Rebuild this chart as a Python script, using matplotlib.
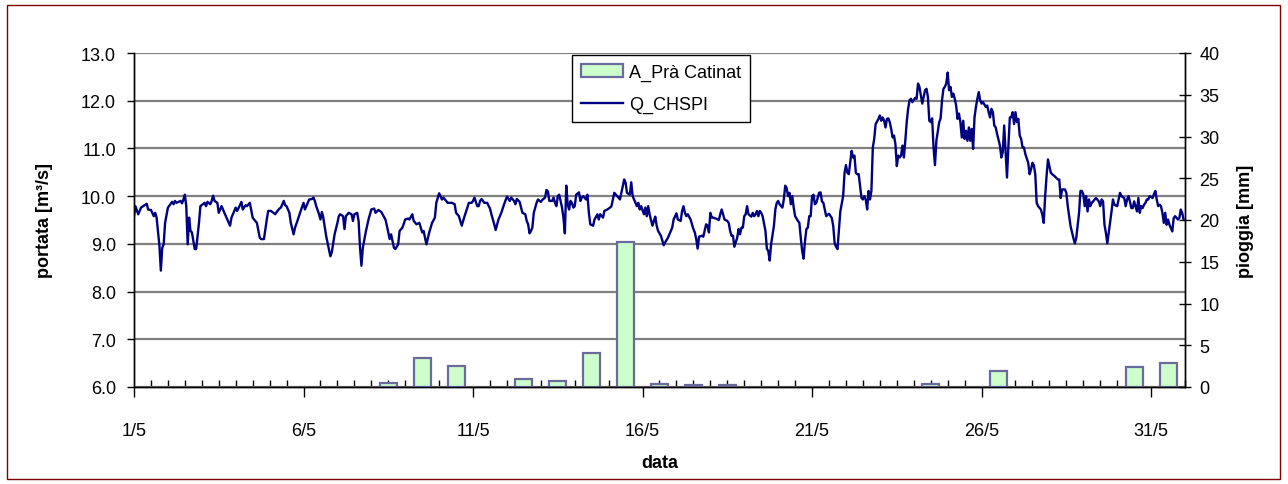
import matplotlib
matplotlib.use("Agg")
import matplotlib.pyplot as plt
from matplotlib.patches import Rectangle
from matplotlib.ticker import FormatStrFormatter
import numpy as np

plt.rcParams['font.family'] = ['Liberation Sans', 'DejaVu Sans']

# pioggia giornaliera a Prà Catinat (mm), giorno di maggio
rain_days = [8, 9, 10, 12, 13, 14, 15, 16, 17, 18, 24, 26, 30, 31]
rain_mm = [0.5, 3.5, 2.5, 0.9, 0.7, 4.1, 17.4, 0.3, 0.2, 0.2, 0.4, 1.9, 2.4, 2.9]

# portata Q_CHSPI: ore dal 1/5 00:00 e valori in m3/s
flow_hours = [
    0, 1, 3, 5, 9, 10, 12, 14, 15, 16, 18, 19, 20, 21, 22,
    24, 27, 28, 29, 30, 33, 34, 35, 36, 37, 38, 39, 40, 41, 43, 44, 46, 47,
    50, 51, 52, 54, 55, 56, 57, 59, 60, 62, 64, 68, 69,
    72, 73, 75, 76, 77, 79, 80, 82, 84, 85, 87, 89, 90, 92, 94, 95,
    97, 100, 101, 103, 104, 106, 107, 108, 110, 111, 113, 114, 116, 118,
    120, 121, 122, 124, 126, 127, 128, 129, 131, 132, 133, 134, 136, 138, 139, 140, 142,
    144, 145, 146, 148, 149, 150, 152, 154, 155, 156, 158, 159, 160, 161, 162, 164, 166,
    168, 170, 171, 173, 175, 178, 179, 181, 182, 184, 185, 187, 188, 190,
    192, 194, 195, 197, 198, 200, 202, 204, 205, 206, 207, 209, 211, 213, 214,
    216, 218, 219, 221, 222, 225, 227, 228, 230, 232, 233, 234, 236, 237, 239,
    240, 241, 243, 244, 245, 246, 248, 250, 252, 253, 255, 256, 258, 260, 262,
    264, 266, 267, 269, 270, 271, 273, 274, 275, 277, 278, 279, 280, 281, 282, 283, 285, 286,
    288, 289, 291, 292, 293, 294, 296, 297, 298, 299, 300, 301, 302, 303, 304, 305, 306, 307, 308, 309, 310,
    311, 312, 313, 315, 316, 317, 318, 320, 321, 322, 323, 325, 326, 328, 329, 330, 332, 333, 335,
    337, 338, 339, 340, 342, 343, 344, 345, 347, 348, 349, 351, 352, 353, 355, 356, 357,
    358, 359, 361, 362, 363, 364, 365, 367, 368, 369, 370, 371, 373, 375, 376, 378, 379, 381, 382,
    384, 385, 387, 388, 389, 390, 391, 392, 394, 396, 397, 398, 399, 400, 402, 403, 405, 406, 407,
    408, 409, 410, 412, 414, 415, 416, 417, 418, 420, 421, 422, 423, 424, 425, 427, 428, 429, 430, 431,
    432, 433, 434, 435, 437, 438, 439, 440, 441, 442, 443, 444, 445, 447, 448, 449, 450, 451, 453, 454, 455,
    456, 457, 459, 460, 461, 462, 463, 464, 465, 466, 467, 468, 470, 471, 472, 473, 474, 475, 476, 477, 478, 479,
    480, 481, 482, 483, 485, 486, 487, 488, 490, 491, 492, 494, 495, 496, 497, 498, 499, 500, 502, 503,
    504, 505, 506, 507, 508, 509, 510, 511, 512, 513, 515, 516, 517, 518, 519, 520, 521, 522, 523, 524, 525, 527,
    528, 529, 530, 531, 532, 533, 534, 535, 536, 537, 538, 539, 540, 541, 542, 543, 544, 545, 546, 547, 548, 549, 550, 551,
    553, 554, 555, 556, 557, 558, 560, 561, 562, 563, 564, 565, 566, 567, 568, 570, 571, 572, 573, 574, 575,
    576, 577, 578, 579, 580, 581, 582, 583, 584, 585, 586, 587, 588, 589, 590, 591, 592, 593, 594, 595, 596, 597, 598, 599,
    600, 601, 603, 604, 605, 606, 607, 608, 609, 610, 611, 613, 614, 615, 616, 617, 618, 619, 620, 621, 622, 623,
    624, 625, 626, 627, 628, 629, 630, 631, 633, 634, 635, 636, 637, 638, 639, 640, 642, 643, 644, 645, 646, 647,
    648, 649, 650, 652, 654, 655, 656, 657, 659, 660, 661, 662, 663, 665, 666, 667, 669, 670, 671,
    672, 673, 674, 675, 676, 677, 678, 679, 680, 681, 683, 684, 685, 686, 687, 688, 689, 690, 691, 692, 693, 694,
    696, 697, 698, 699, 701, 702, 703, 704, 705, 706, 707, 708, 710, 711, 712, 713, 714, 715, 716, 717, 718, 719,
    721, 722, 723, 724, 725, 726, 727, 728, 729, 730, 731, 732, 733, 734, 735, 736, 737, 739, 740, 741, 742, 743,
]
flow_q = [
    9.58, 9.79, 9.62, 9.76, 9.84, 9.72, 9.71, 9.58, 9.65, 9.55, 8.96, 8.44, 8.92, 8.99, 9.44,
    9.76, 9.88, 9.83, 9.90, 9.86, 9.90, 9.85, 9.93, 10.03, 9.79, 8.99, 9.55, 9.27, 9.24, 8.89, 8.89, 9.44, 9.79,
    9.86, 9.79, 9.88, 9.83, 9.90, 10.01, 9.90, 9.86, 9.65, 9.79, 9.65, 9.38, 9.55,
    9.76, 9.69, 9.81, 9.88, 9.72, 9.81, 9.79, 9.86, 9.55, 9.51, 9.44, 9.13, 9.10, 9.10, 9.51, 9.69,
    9.69, 9.62, 9.67, 9.74, 9.76, 9.90, 9.81, 9.79, 9.65, 9.44, 9.20, 9.34, 9.51, 9.69,
    9.86, 9.72, 9.79, 9.93, 9.94, 9.97, 9.90, 9.79, 9.62, 9.51, 9.67, 9.55, 9.17, 8.89, 8.74, 8.82, 9.20,
    9.44, 9.58, 9.62, 9.58, 9.31, 9.58, 9.65, 9.62, 9.48, 9.62, 9.65, 9.48, 8.92, 8.54, 8.92, 9.24, 9.51,
    9.72, 9.74, 9.65, 9.71, 9.67, 9.51, 9.38, 9.10, 9.20, 8.92, 8.89, 8.99, 9.27, 9.34,
    9.51, 9.53, 9.51, 9.62, 9.48, 9.41, 9.44, 9.24, 9.27, 9.13, 8.99, 9.24, 9.44, 9.55, 9.86,
    10.06, 9.93, 9.97, 9.90, 9.86, 9.86, 9.83, 9.65, 9.58, 9.38, 9.48, 9.58, 9.76, 9.86, 9.86,
    9.90, 9.97, 9.79, 9.79, 9.90, 9.94, 9.86, 9.86, 9.74, 9.62, 9.41, 9.29, 9.51, 9.65, 9.83,
    9.99, 9.90, 9.97, 9.90, 9.83, 9.94, 9.88, 9.76, 9.65, 9.62, 9.48, 9.41, 9.22, 9.27, 9.34, 9.65, 9.86, 9.93,
    9.88, 9.92, 9.97, 10.13, 10.10, 9.90, 9.90, 9.97, 9.86, 9.79, 10.00, 10.03, 9.90, 9.76, 9.55, 9.22, 10.22, 9.83, 9.72, 9.90, 9.86,
    9.76, 9.79, 10.03, 10.08, 9.90, 9.97, 10.00, 9.93, 10.03, 9.65, 9.41, 9.38, 9.51, 9.62, 9.51, 9.62, 9.55, 9.69, 9.72,
    9.76, 9.79, 9.93, 10.07, 10.00, 9.97, 9.93, 10.07, 10.35, 10.28, 10.07, 10.03, 10.29, 10.00, 9.86, 9.79, 9.86,
    9.72, 9.79, 9.62, 9.76, 9.58, 9.79, 9.62, 9.38, 9.48, 9.57, 9.38, 9.27, 9.17, 8.97, 9.03, 9.13, 9.20, 9.34, 9.51,
    9.64, 9.51, 9.48, 9.69, 9.79, 9.65, 9.58, 9.62, 9.51, 9.31, 9.24, 9.10, 8.90, 9.15, 9.17, 9.15, 9.41, 9.38, 9.24,
    9.65, 9.55, 9.55, 9.53, 9.50, 9.62, 9.72, 9.62, 9.51, 9.48, 9.44, 9.27, 9.17, 9.17, 8.94, 9.13, 9.31, 9.20, 9.34, 9.34,
    9.58, 9.62, 9.79, 9.62, 9.57, 9.65, 9.58, 9.62, 9.69, 9.58, 9.69, 9.65, 9.58, 9.27, 8.90, 8.85, 8.65, 8.99, 9.38, 9.72, 9.86,
    9.90, 9.83, 9.76, 9.93, 10.22, 10.17, 10.00, 10.07, 9.83, 10.00, 9.76, 9.58, 9.48, 9.44, 9.13, 8.85, 8.69, 9.06, 9.31, 9.34, 9.58, 9.58,
    10.00, 10.03, 9.83, 9.86, 10.07, 10.08, 9.89, 9.86, 9.58, 9.61, 9.63, 9.54, 9.37, 9.01, 8.94, 8.89, 9.30, 9.68, 10.00, 10.49,
    10.65, 10.49, 10.46, 10.70, 10.95, 10.81, 10.85, 10.49, 10.46, 10.46, 9.96, 9.93, 10.00, 9.93, 9.72, 10.11, 9.93, 10.11, 11.02, 11.20, 11.51, 11.62,
    11.69, 11.58, 11.65, 11.58, 11.44, 11.62, 11.63, 11.55, 11.41, 11.23, 11.27, 11.09, 10.63, 10.85, 10.81, 10.85, 11.06, 10.81, 11.16, 11.55, 11.83, 12.01, 12.04, 11.97,
    12.06, 12.04, 12.36, 12.29, 12.11, 11.94, 12.22, 12.25, 12.08, 11.58, 11.55, 11.63, 11.02, 10.65, 11.16, 11.55, 11.63, 12.01, 12.25, 12.29, 12.36,
    12.59, 12.22, 12.29, 12.08, 12.15, 12.04, 11.90, 11.62, 11.73, 11.55, 11.23, 11.58, 11.20, 11.37, 11.16, 11.44, 11.16, 11.41, 10.99, 11.65, 11.87, 12.04, 12.18, 12.01,
    11.94, 11.97, 11.87, 11.90, 11.76, 11.65, 11.83, 11.76, 11.48, 11.44, 11.30, 11.06, 10.81, 10.92, 11.48, 10.92, 10.39, 11.06, 11.65, 11.65, 11.76, 11.51,
    11.76, 11.55, 11.62, 11.27, 11.20, 11.02, 11.02, 10.88, 10.70, 10.46, 10.56, 10.70, 10.65, 10.46, 9.86, 9.79, 9.72, 9.61, 9.44, 10.00, 10.42, 10.77,
    10.63, 10.49, 10.46, 10.41, 10.35, 10.35, 9.96, 10.14, 10.14, 10.07, 9.79, 9.58, 9.37, 9.12, 9.01, 9.12, 9.65, 10.11, 10.11,
    10.04, 9.79, 10.00, 9.68, 9.93, 9.79, 9.86, 9.89, 9.93, 9.96, 9.89, 9.79, 9.93, 9.89, 9.40, 9.23, 9.01, 9.23, 9.44, 9.68, 9.93, 9.82,
    9.79, 9.93, 10.07, 10.00, 9.96, 9.79, 9.93, 10.00, 9.89, 9.75, 9.75, 9.89, 9.68, 9.96, 9.65, 9.79, 9.75, 9.82, 9.86, 9.93, 9.93, 10.00,
    9.96, 10.04, 10.11, 9.93, 9.79, 9.82, 9.79, 9.65, 9.44, 9.65, 9.40, 9.51, 9.40, 9.33, 9.26, 9.54, 9.58, 9.51, 9.54, 9.72, 9.65, 9.51,
]

date_labels = ['1/5', '6/5', '11/5', '16/5', '21/5', '26/5', '31/5']

W, H = 1288, 485
fig = plt.figure(figsize=(W / 100, H / 100), dpi=100)
ax = fig.add_axes([134 / W, 1 - 388 / H, (1185 - 134) / W, (388 - 54) / H])
ax2 = ax.twinx()

# portata (asse sinistro)
t = np.array(flow_hours) / 24.0
ax.plot(t, flow_q, color='#000080', lw=1.7, zorder=3)
ax.set_xlim(0, 31)
ax.set_ylim(6, 13)
ax.set_yticks(np.arange(6, 13.5, 1))
ax.yaxis.set_major_formatter(FormatStrFormatter('%.1f'))
ax.set_axisbelow(True)
ax.yaxis.grid(True, color='#808080', lw=1.6)

# pioggia (asse destro)
bars = ax2.bar(np.array(rain_days) - 0.5, rain_mm, width=0.5,
               color='#ccffcc', edgecolor='#6a6a9c', linewidth=1.6)
ax2.set_ylim(0, 40)
ax2.set_yticks(np.arange(0, 41, 5))

ax.set_xticks(np.arange(0, 31, 5))
ax.set_xticklabels(date_labels)
ax.set_xticks(np.arange(0, 31.01, 0.5), minor=True)

for a in (ax, ax2):
    a.spines['top'].set_visible(False)
    for s in ('left', 'right', 'bottom'):
        a.spines[s].set_linewidth(1.0)
        a.spines[s].set_color('black')

ax.tick_params(axis='y', direction='out', length=5, width=1, pad=8, labelsize=13)
ax2.tick_params(axis='y', direction='inout', length=9, width=1, pad=6, labelsize=13)
ax.tick_params(axis='x', which='major', direction='out', length=7, width=1, pad=18, labelsize=13)
ax.tick_params(axis='x', which='minor', direction='in', length=5, width=1)

fig.text(45 / W, 1 - 221 / H, 'portata [m³/s]', rotation=90, ha='center', va='center',
         fontsize=13, fontweight='bold')
fig.text(1245 / W, 1 - 221 / H, 'pioggia [mm]', rotation=90, ha='center', va='center',
         fontsize=13, fontweight='bold')
fig.text(660 / W, 1 - 463 / H, 'data', ha='center', va='center',
         fontsize=13, fontweight='bold')

line = ax.get_lines()[0]
leg = ax2.legend([bars, line], ['A_Prà Catinat', 'Q_CHSPI'], loc='upper left',
                 bbox_to_anchor=(0.417, 0.995), fontsize=13, frameon=True, fancybox=False,
                 edgecolor='black', framealpha=1, handlelength=2.3, handleheight=0.7,
                 borderpad=0.5, labelspacing=0.85, handletextpad=0.35, borderaxespad=0)
leg.get_frame().set_linewidth(1.0)

# bordo del grafico
fig.patches.append(Rectangle((7 / W, 5 / H), 1273 / W, 474 / H, transform=fig.transFigure,
                             fill=False, edgecolor='#800000', linewidth=1.0))

fig.savefig('out.png', dpi=100)
